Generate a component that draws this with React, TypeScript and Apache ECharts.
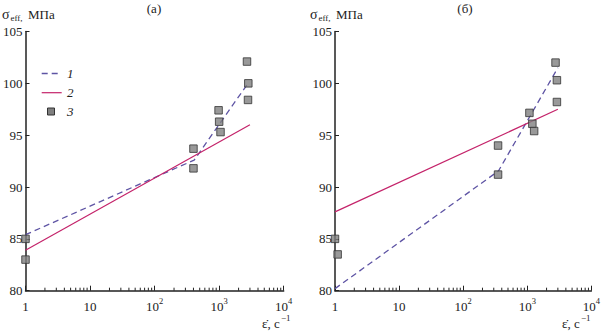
import React, { useEffect, useRef } from "react";
import * as echarts from "echarts";

// Panel (а)
const dashA: [number, number][] = [[1, 85.4], [410, 92.6], [2800, 100.0]];
const lineA: [number, number][] = [[1, 83.9], [3000, 96.0]];
const ptsA: [number, number][] = [
  [1, 85.0], [1, 83.0], [400, 93.7], [400, 91.8], [980, 97.4],
  [1000, 96.3], [1050, 95.3], [2700, 102.1], [2830, 100.0], [2800, 98.4],
];
// Panel (б)
const dashB: [number, number][] = [[1, 80.2], [355, 91.55], [3000, 101.5]];
const lineB: [number, number][] = [[1, 87.6], [3000, 97.5]];
const ptsB: [number, number][] = [
  [1, 85.0], [1.1, 83.5], [350, 94.0], [350, 91.2], [1080, 97.15],
  [1200, 96.1], [1280, 95.4], [2760, 102.0], [2900, 100.3], [2900, 98.2],
];
const minorTicks: number[] = [
  2, 3, 4, 5, 6, 7, 8, 9, 20, 30, 40, 50, 60, 70, 80, 90,
  200, 300, 400, 500, 600, 700, 800, 900, 2000, 3000, 4000, 5000, 6000, 7000, 8000, 9000,
];
const yTicks = { min: 80, max: 105, interval: 5 };

const DASH_COLOR = "#5e54a4";
const RED_COLOR = "#c4236a";
const FONT = "Liberation Serif";

export default function App() {
  const ref = useRef<HTMLDivElement>(null);
  useEffect(() => {
    if (!ref.current) return;
    const chart = echarts.init(ref.current, null, { renderer: "svg" });
    const grids = [
      { left: 25, top: 31.5, width: 258.7, height: 259.2 },
      { left: 335, top: 31.5, width: 258.7, height: 259.2 },
    ];
    const xFmt = (v: number) => {
      const e = Math.round(Math.log10(v));
      if (e === 0) return "{b|1}";
      if (e === 1) return "{b|10}";
      return "{b|10}{s|" + e + "}";
    };
    const xAxes = [0, 1].map((i) => ({
      type: "log",
      logBase: 10,
      gridIndex: i,
      min: 1,
      max: 10000,
      axisLine: { lineStyle: { color: "#222", width: 1.5 } },
      axisTick: { inside: true, length: 5, lineStyle: { color: "#222" } },
      splitLine: { show: false },
      axisLabel: {
        formatter: xFmt,
        margin: 6,
        color: "#222",
        rich: {
          b: { fontFamily: FONT, fontSize: 13, lineHeight: 16, color: "#222", verticalAlign: "bottom" },
          s: { fontFamily: FONT, fontSize: 8.5, lineHeight: 16, color: "#222", verticalAlign: "top" },
        },
      },
    }));
    const yAxes = [0, 1].map((i) => ({
      type: "value",
      gridIndex: i,
      min: yTicks.min,
      max: yTicks.max,
      interval: yTicks.interval,
      axisLine: { show: true, lineStyle: { color: "#222", width: 1.5 } },
      axisTick: { show: true, inside: true, length: 4, lineStyle: { color: "#222" } },
      splitLine: { show: false },
      axisLabel: { fontFamily: FONT, fontSize: 13, color: "#222", margin: 3 },
    }));
    const minorSeries = [0, 1].map((i) => ({
      type: "custom",
      xAxisIndex: i,
      yAxisIndex: i,
      silent: true,
      clip: false,
      data: minorTicks.map((v) => [v, yTicks.min]),
      renderItem: (_p: any, api: any) => {
        const pt = api.coord([api.value(0), api.value(1)]);
        return {
          type: "line",
          shape: { x1: pt[0], y1: pt[1], x2: pt[0], y2: pt[1] - 3 },
          style: { stroke: "#222", lineWidth: 1 },
        };
      },
    }));
    const mk = (i: number, dash: any, line: any, pts: any) => [
      {
        type: "line", xAxisIndex: i, yAxisIndex: i, data: dash, showSymbol: false,
        lineStyle: { color: DASH_COLOR, width: 1.3, type: [6, 4] }, z: 3,
      },
      {
        type: "line", xAxisIndex: i, yAxisIndex: i, data: line, showSymbol: false,
        lineStyle: { color: RED_COLOR, width: 1.2 }, z: 3,
      },
      {
        type: "scatter", xAxisIndex: i, yAxisIndex: i, data: pts, symbol: "rect", symbolSize: 7.5,
        itemStyle: { color: "#7f7f7f", borderColor: "#333", borderWidth: 1 }, z: 4,
      },
    ];
    const t = (x: number, y: number, text: string, size = 13, align = "left", italic = false) => ({
      type: "text",
      x,
      y,
      style: {
        text,
        fontFamily: FONT,
        fontSize: size,
        fontStyle: italic ? "italic" : "normal",
        fill: "#222",
        align,
        verticalAlign: "middle",
      },
    });
    const yLabel = (x0: number) => [
      t(x0, 14, "σ", 14),
      t(x0 + 8.5, 17.5, "eff,", 9),
      t(x0 + 26, 14, "МПа", 13),
    ];
    const xLabel = (x0: number) => [
      t(x0, 323, "ε̇, с", 13),
      t(x0 + 19, 318, "−1", 9),
    ];
    chart.setOption({
      animation: false,
      backgroundColor: "#fff",
      grid: grids,
      xAxis: xAxes,
      yAxis: yAxes,
      series: [...minorSeries, ...mk(0, dashA, lineA, ptsA), ...mk(1, dashB, lineB, ptsB)],
      graphic: [
        t(154, 8, "(а)", 13, "center"),
        t(465, 8, "(б)", 13, "center"),
        ...yLabel(2),
        ...yLabel(310),
        ...xLabel(262),
        ...xLabel(562),
        {
          type: "line",
          shape: { x1: 41.7, y1: 73.5, x2: 61.7, y2: 73.5 },
          style: { stroke: DASH_COLOR, lineWidth: 1.3, lineDash: [6, 4] },
        },
        {
          type: "line",
          shape: { x1: 41.7, y1: 92.7, x2: 61.7, y2: 92.7 },
          style: { stroke: RED_COLOR, lineWidth: 1.2 },
        },
        {
          type: "rect",
          shape: { x: 47.5, y: 108, width: 7, height: 7 },
          style: { fill: "#7f7f7f", stroke: "#333", lineWidth: 1 },
        },
        t(67, 73.5, "1", 13, "left", true),
        t(67, 92.7, "2", 13, "left", true),
        t(67, 111.5, "3", 13, "left", true),
      ],
    });
    return () => chart.dispose();
  }, []);
  return (
    <div
      ref={ref}
      style={{ position: "fixed", left: 0, top: 0, width: 603, height: 332, background: "#fff" }}
    />
  );
}
